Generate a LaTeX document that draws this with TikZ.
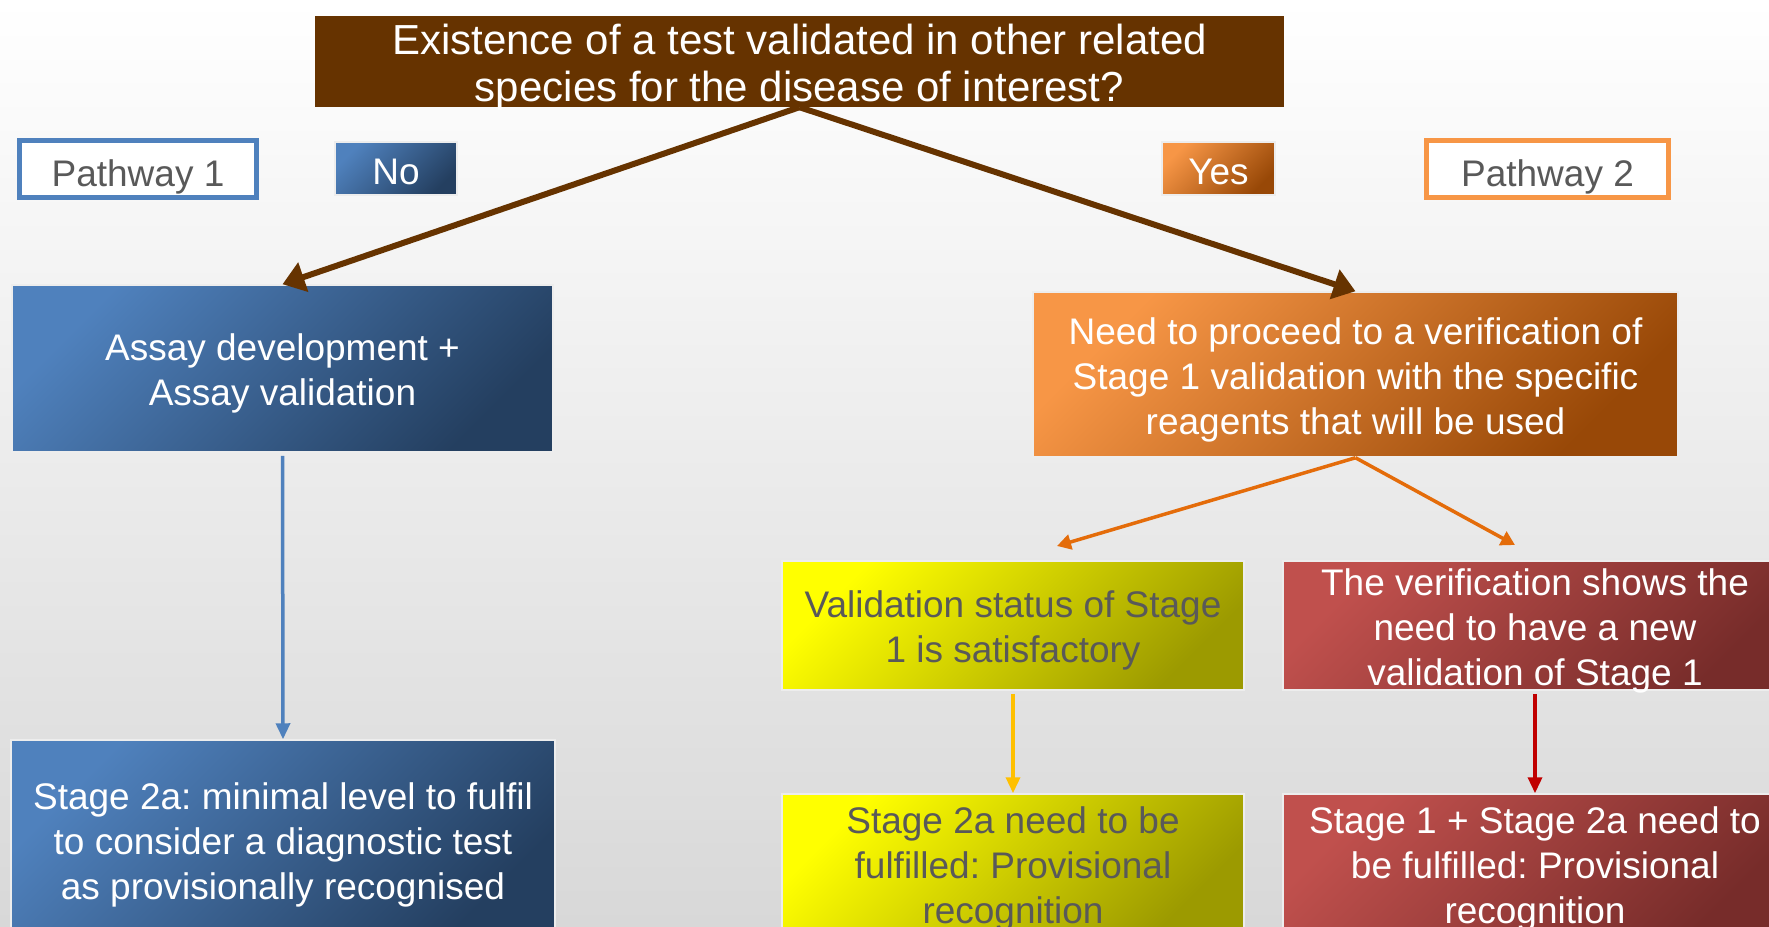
\documentclass[tikz,border=0pt]{standalone}
\usepackage{fontspec}
\setmainfont{Liberation Sans}
\frenchspacing
\usetikzlibrary{arrows.meta}
\definecolor{brownbox}{HTML}{663300}
\definecolor{blueA}{HTML}{4F81BD}
\definecolor{blueB}{HTML}{243F60}
\definecolor{orangeA}{HTML}{F79646}
\definecolor{orangeB}{HTML}{984807}
\definecolor{orangeLine}{HTML}{E46C0A}
\definecolor{yellowA}{HTML}{FFFF00}
\definecolor{yellowB}{HTML}{9C9A00}
\definecolor{yellowLine}{HTML}{FFC000}
\definecolor{redA}{HTML}{C0504D}
\definecolor{redB}{HTML}{772C2A}
\definecolor{redLine}{HTML}{C00000}
\definecolor{greytext}{HTML}{595959}
\definecolor{bgbottom}{HTML}{D8D8D8}
\tikzset{
  % text set slightly below the geometric centre of each box
  words/.style={inner sep=0pt, align=center, font=\fontsize{37}{45}\selectfont, yshift=-5pt},
  box/.style={inner sep=0pt, draw=white!93!black, line width=1.5pt},
  blueshade/.style={box, top color=blueA, bottom color=blueB, shading angle=45},
  orangeshade/.style={box, top color=orangeA, bottom color=orangeB, shading angle=45},
  yellowshade/.style={box, top color=yellowA, bottom color=yellowB, shading angle=45},
  redshade/.style={box, top color=redA, bottom color=redB, shading angle=45},
  pathbox/.style={inner sep=0pt, fill=white, line width=5pt},
  lightwords/.style={words, text=white},
  darkwords/.style={words, text=greytext},
}
\begin{document}
\begin{tikzpicture}[x=1pt, y=-1pt]
  \path[use as bounding box] (0,0) rectangle (1769,926);
  \clip (0,0) rectangle (1769,926);
  \shade[top color=white, bottom color=bgbottom] (0,0) rectangle (1769,926);

  % question at the top
  \node[inner sep=0pt, fill=brownbox, minimum width=969pt, minimum height=91pt,
        label={[lightwords, font=\fontsize{42}{47}\selectfont, yshift=-1pt]center:{Existence of a test validated in other related\\species for the disease of interest?}}]
        (q) at (799.5,61.5) {};

  % pathway labels and answers
  \node[pathbox, draw=blueA, minimum width=237pt, minimum height=57pt,
        label={[darkwords, yshift=-3pt]center:Pathway 1}] (p1) at (138,169) {};
  \node[blueshade, minimum width=122pt, minimum height=53pt,
        label={[lightwords, yshift=2pt]center:No}] (no) at (396,168.5) {};
  \node[orangeshade, minimum width=113pt, minimum height=53pt,
        label={[lightwords, yshift=2pt]center:Yes}] (yes) at (1218.5,168.5) {};
  \node[pathbox, draw=orangeA, minimum width=242pt, minimum height=57pt,
        label={[darkwords, yshift=-3pt]center:Pathway 2}] (p2) at (1547.5,169) {};

  % pathway 1
  \node[blueshade, minimum width=541pt, minimum height=167pt,
        label={[lightwords]center:{Assay development +\\Assay validation}}]
        (assay) at (282.5,368.5) {};
  \node[blueshade, minimum width=544pt, minimum height=200pt,
        label={[lightwords]center:{Stage 2a: minimal level to fulfil\\to consider a diagnostic test\\as provisionally recognised}}]
        (s2a) at (283,840) {};

  % pathway 2
  \node[orangeshade, minimum width=645pt, minimum height=165pt,
        label={[lightwords]center:{Need to proceed to a verification of\\Stage 1 validation with the specific\\reagents that will be used}}]
        (verif) at (1355.5,374.5) {};
  \node[yellowshade, minimum width=462pt, minimum height=129pt,
        label={[darkwords]center:{Validation status of Stage\\1 is satisfactory}}]
        (ok) at (1013,625.5) {};
  \node[redshade, minimum width=504pt, minimum height=129pt,
        label={[lightwords]center:{The verification shows the\\need to have a new\\validation of Stage 1}}]
        (redo) at (1535,625.5) {};
  \node[yellowshade, minimum width=462pt, minimum height=140pt,
        label={[darkwords]center:{Stage 2a need to be\\fulfilled: Provisional\\recognition}}]
        (prov) at (1013,864) {};
  \node[redshade, minimum width=504pt, minimum height=140pt,
        label={[lightwords]center:{Stage 1 + Stage 2a need to\\be fulfilled: Provisional\\recognition}}]
        (prov2) at (1535,864) {};

  \coordinate (okin) at (1057,546);
  \coordinate (redoin) at (1515,545);

  % connectors
  \draw[brownbox, line width=6pt, -{Triangle[width=30pt, length=22pt]}] (q.south) -- (assay.north);
  \draw[brownbox, line width=6pt, -{Triangle[width=30pt, length=22pt]}] (q.south) -- (verif.north);
  \draw[blueA, line width=3.5pt, -{Triangle[width=14pt, length=16pt]}, shorten <=3pt] (assay.south) -- (s2a.north);
  \draw[orangeLine, line width=3.5pt, -{Triangle[width=15pt, length=14pt]}] (verif.south) -- (okin);
  \draw[orangeLine, line width=3.5pt, -{Triangle[width=15pt, length=14pt]}] (verif.south) -- (redoin);
  \draw[yellowLine, line width=3.5pt, -{Triangle[width=14pt, length=16pt]}, shorten <=3pt] (ok.south) -- (prov.north);
  \draw[redLine, line width=3.5pt, -{Triangle[width=14pt, length=16pt]}, shorten <=3pt] (redo.south) -- (prov2.north);
\end{tikzpicture}
\end{document}
